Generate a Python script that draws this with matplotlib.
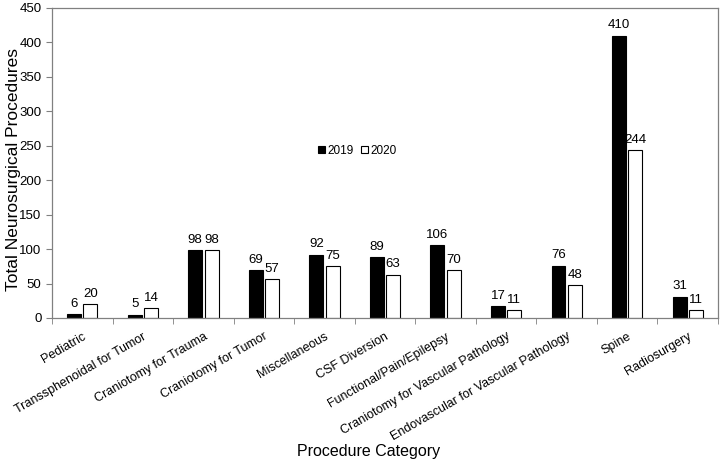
import numpy as np
import matplotlib
matplotlib.use('Agg')
import matplotlib.pyplot as plt

plt.rcParams['font.family'] = ['Liberation Sans', 'DejaVu Sans']

categories = [
    'Pediatric', 'Transsphenoidal for Tumor', 'Craniotomy for Trauma',
    'Craniotomy for Tumor', 'Miscellaneous', 'CSF Diversion',
    'Functional/Pain/Epilepsy', 'Craniotomy for Vascular Pathology',
    'Endovascular for Vascular Pathology', 'Spine', 'Radiosurgery',
]
values_2019 = [6, 5, 98, 69, 92, 89, 106, 17, 76, 410, 31]
values_2020 = [20, 14, 98, 57, 75, 63, 70, 11, 48, 244, 11]

fig = plt.figure(figsize=(7.23, 4.62), dpi=100)
ax = fig.add_axes([52 / 723, 1 - 318 / 462, 666 / 723, 310 / 462])

x = np.arange(len(categories))
w = 0.23
b1 = ax.bar(x - 0.02 - w / 2, values_2019, w, color='black',
            edgecolor='black', linewidth=0.8, label='2019')
b2 = ax.bar(x + 0.02 + w / 2, values_2020, w, color='white',
            edgecolor='black', linewidth=0.8, label='2020')
ax.bar_label(b1, padding=3, fontsize=9.5)
ax.bar_label(b2, padding=3, fontsize=9.5)

ax.set_xlim(-0.5, len(categories) - 0.5)
ax.set_ylim(0, 450)
ax.set_yticks(np.arange(0, 451, 50))

# category labels centred, tick marks on category boundaries
ax.set_xticks(x)
ax.set_xticklabels(categories, rotation=30, ha='right',
                   rotation_mode='anchor', fontsize=9)
ax.tick_params(axis='x', length=0, pad=9)
ax.set_xticks(np.arange(len(categories) + 1) - 0.5, minor=True)
ax.tick_params(axis='x', which='minor', length=4, color='#808080',
               direction='out')
ax.tick_params(axis='y', labelsize=9.5, length=4, color='#808080')

for s in ax.spines.values():
    s.set_color('#808080')
    s.set_linewidth(0.9)

ax.set_ylabel('Total Neurosurgical Procedures', fontsize=12.5)
ax.yaxis.set_label_coords(-0.046, 0.48)
ax.set_xlabel('Procedure Category', fontsize=11.5)
ax.xaxis.set_label_coords(0.476, -0.405)

ax.legend(loc='center', bbox_to_anchor=(0.458, 0.54), ncol=2, frameon=False,
          fontsize=8.5, handlelength=0.6, handleheight=0.6,
          handletextpad=0.2, columnspacing=0.6)

fig.savefig('out.png', dpi=100)
